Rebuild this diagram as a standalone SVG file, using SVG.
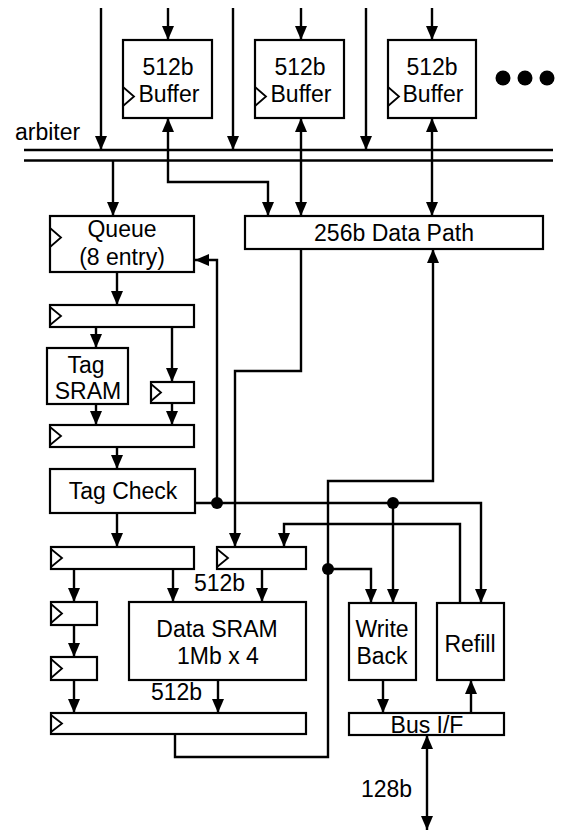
<svg xmlns="http://www.w3.org/2000/svg" width="562" height="834" viewBox="0 0 562 834">
<style>
.box{fill:#fff;stroke:#000;stroke-width:2.2}
.clk{fill:none;stroke:#000;stroke-width:1.8}
.w{fill:none;stroke:#000;stroke-width:2.4}
.a{marker-end:url(#ah)}
.b{marker-start:url(#ah);marker-end:url(#ah)}
text{font-family:"Liberation Sans",Arial,sans-serif;font-size:23px;fill:#000}
.c{text-anchor:middle}
</style>
<defs>
<marker id="ah" viewBox="0 0 14 12" refX="14" refY="6" markerWidth="14" markerHeight="12" markerUnits="userSpaceOnUse" orient="auto-start-reverse">
<path d="M0,0 L14,6 L0,12 z" fill="#000"/>
</marker>
</defs>
<rect width="562" height="834" fill="#fff"/>

<g id="connectors">
<line class="w" x1="24" y1="150" x2="553" y2="150"/>
<line class="w" x1="24" y1="160.5" x2="553" y2="160.5"/>
<line class="w a" x1="101" y1="8" x2="101" y2="150"/>
<line class="w a" x1="233" y1="8" x2="233" y2="150"/>
<line class="w a" x1="366" y1="8" x2="366" y2="150"/>
<line class="w a" x1="168" y1="8" x2="168" y2="40"/>
<line class="w a" x1="301" y1="8" x2="301" y2="40"/>
<line class="w a" x1="432" y1="8" x2="432" y2="40"/>
<path class="w b" d="M168,118 L168,182 L268,182 L268,216"/>
<line class="w b" x1="301" y1="118" x2="301" y2="216"/>
<line class="w b" x1="432" y1="118" x2="432" y2="216"/>
<line class="w a" x1="113" y1="161" x2="113" y2="216"/>
<line class="w a" x1="117" y1="272" x2="117" y2="305"/>
<line class="w a" x1="96" y1="327" x2="96" y2="348"/>
<line class="w a" x1="172" y1="327" x2="172" y2="382"/>
<line class="w a" x1="96" y1="404" x2="96" y2="425"/>
<line class="w a" x1="172" y1="403" x2="172" y2="425"/>
<line class="w a" x1="117" y1="447" x2="117" y2="469"/>
<line class="w a" x1="117" y1="513" x2="117" y2="547"/>
<path class="w a" d="M217,503 L217,260 L195,260"/>
<path class="w a" d="M195,503 L481,503 L481,603"/>
<line class="w a" x1="393" y1="503" x2="393" y2="603"/>
<path class="w a" d="M301,249 L301,371 L235,371 L235,547"/>
<path class="w a" d="M460,603 L460,524 L284,524 L284,547"/>
<path class="w a" d="M175,734 L175,757 L328,757 L328,481 L433,481 L433,249"/>
<path class="w a" d="M328,569 L371,569 L371,603"/>
<line class="w a" x1="74" y1="569" x2="74" y2="602"/>
<line class="w a" x1="173" y1="569" x2="173" y2="602"/>
<line class="w a" x1="262" y1="569" x2="262" y2="602"/>
<line class="w a" x1="74" y1="625" x2="74" y2="657"/>
<line class="w a" x1="74" y1="680" x2="74" y2="713"/>
<line class="w a" x1="218" y1="680" x2="218" y2="713"/>
<line class="w a" x1="383" y1="680" x2="383" y2="713"/>
<line class="w a" x1="471" y1="713" x2="471" y2="680"/>
<line class="w b" x1="427" y1="735" x2="427" y2="830"/>
<circle cx="217" cy="503" r="6"/>
<circle cx="393" cy="503" r="6"/>
<circle cx="328" cy="569" r="6"/>
</g>

<g id="arbiter"><text x="15" y="140">arbiter</text></g>
<g id="dots"><circle cx="503" cy="78" r="7.5"/><circle cx="525" cy="78" r="7.5"/><circle cx="547" cy="78" r="7.5"/></g>

<g id="buffer1"><rect class="box" x="123" y="40" width="89" height="78"/><path class="clk" d="M123,87 L134,96.5 L123,106"/><text class="c" x="168" y="75">512b</text><text class="c" x="169" y="102">Buffer</text></g>
<g id="buffer2"><rect class="box" x="255" y="40" width="89" height="78"/><path class="clk" d="M255,87 L266,96.5 L255,106"/><text class="c" x="300" y="75">512b</text><text class="c" x="301" y="102">Buffer</text></g>
<g id="buffer3"><rect class="box" x="388" y="40" width="88" height="78"/><path class="clk" d="M388,87 L399,96.5 L388,106"/><text class="c" x="432" y="75">512b</text><text class="c" x="433" y="102">Buffer</text></g>

<g id="queue"><rect class="box" x="50" y="216" width="144" height="56"/><path class="clk" d="M50,228 L61,237.5 L50,247"/><text class="c" x="122" y="237">Queue</text><text class="c" x="122" y="265">(8 entry)</text></g>
<g id="datapath"><rect class="box" x="245" y="216" width="298" height="33"/><text class="c" x="394" y="241">256b Data Path</text></g>

<g id="reg1"><rect class="box" x="50" y="305" width="144" height="22"/><path class="clk" d="M50,307 L61,316 L50,325"/></g>
<g id="tagsram"><rect class="box" x="47" y="348" width="81" height="56"/><text class="c" x="86" y="373">Tag</text><text class="c" x="88" y="399">SRAM</text></g>
<g id="reg2"><rect class="box" x="151" y="382" width="43" height="21"/><path class="clk" d="M151,384 L161,392.5 L151,401"/></g>
<g id="reg3"><rect class="box" x="50" y="425" width="144" height="22"/><path class="clk" d="M50,427 L61,436 L50,445"/></g>
<g id="tagcheck"><rect class="box" x="50" y="469" width="145" height="44"/><text class="c" x="123" y="499">Tag Check</text></g>

<g id="reg4"><rect class="box" x="51" y="547" width="143" height="22"/><path class="clk" d="M51,549 L62,558 L51,567"/></g>
<g id="reg5"><rect class="box" x="217" y="547" width="89" height="22"/><path class="clk" d="M217,549 L228,558 L217,567"/></g>
<text x="194" y="591">512b</text>
<g id="reg6"><rect class="box" x="51" y="602" width="46" height="23"/><path class="clk" d="M51,604 L62,613.5 L51,623"/></g>
<g id="reg7"><rect class="box" x="51" y="657" width="46" height="23"/><path class="clk" d="M51,659 L62,668.5 L51,678"/></g>
<g id="datasram"><rect class="box" x="129" y="602" width="177" height="78"/><text class="c" x="217" y="637">Data SRAM</text><text class="c" x="218" y="664">1Mb x 4</text></g>
<text x="151" y="700">512b</text>
<g id="reg8"><rect class="box" x="51" y="713" width="255" height="21"/><path class="clk" d="M51,715 L62,723.5 L51,732"/></g>

<g id="writeback"><rect class="box" x="349" y="603" width="67" height="77"/><text class="c" x="382" y="637">Write</text><text class="c" x="382" y="664">Back</text></g>
<g id="refill"><rect class="box" x="437" y="603" width="67" height="77"/><text class="c" x="470" y="652">Refill</text></g>
<g id="busif"><rect class="box" x="349" y="713" width="155" height="22"/><text class="c" x="427" y="733">Bus I/F</text></g>
<text x="361" y="797">128b</text>
</svg>
